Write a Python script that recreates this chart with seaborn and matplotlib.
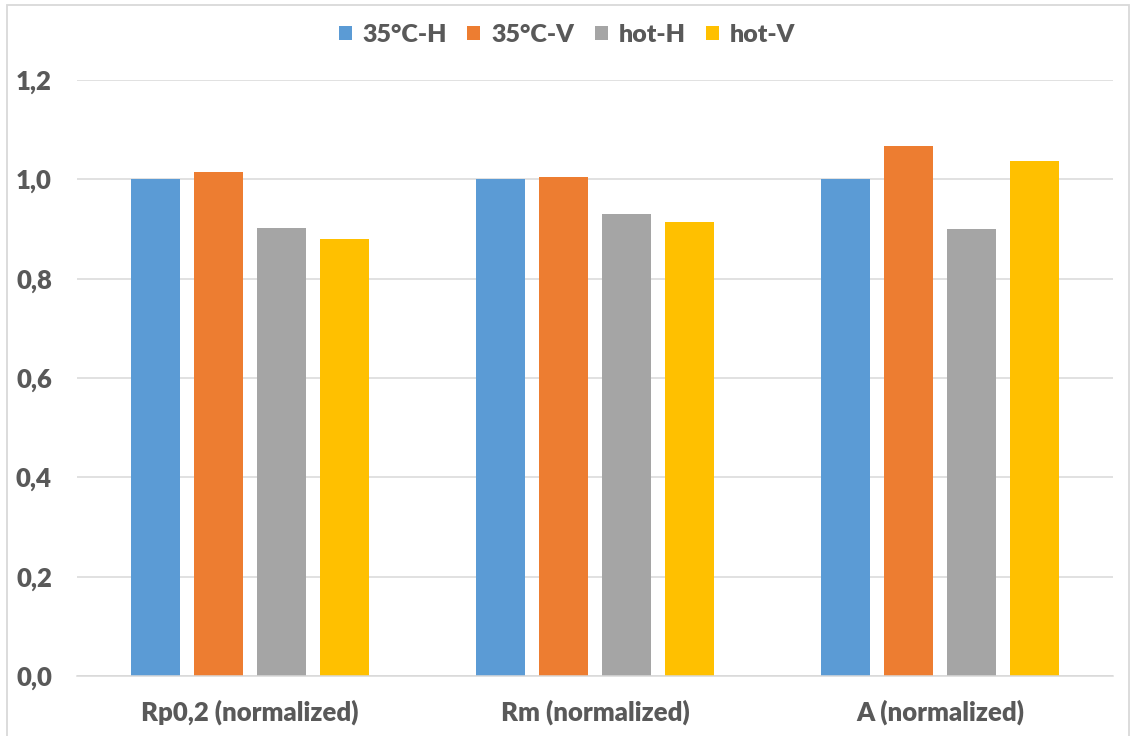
import matplotlib
matplotlib.use("Agg")
import matplotlib.pyplot as plt
from matplotlib.patches import Rectangle, Patch
import seaborn as sns
import pandas as pd

# Normalized tensile properties per test condition
categories = ["Rp0,2 (normalized)", "Rm (normalized)", "A (normalized)"]
series = ["35°C-H", "35°C-V", "hot-H", "hot-V"]
val_35_h = [1.000, 1.000, 1.000]
val_35_v = [1.014, 1.004, 1.067]
val_hot_h = [0.902, 0.931, 0.900]
val_hot_v = [0.879, 0.915, 1.036]
y_ticks = [0.0, 0.2, 0.4, 0.6, 0.8, 1.0, 1.2]
y_tick_labels = ["0,0", "0,2", "0,4", "0,6", "0,8", "1,0", "1,2"]

colors = ["#5B9BD5", "#ED7D31", "#A5A5A5", "#FFC000"]
text_color = "#595959"
grid_color = "#D9D9D9"

rows = []
for name, vals in zip(series, [val_35_h, val_35_v, val_hot_h, val_hot_v]):
    for cat, v in zip(categories, vals):
        rows.append({"category": cat, "series": name, "value": v})
df = pd.DataFrame(rows)

sns.set_theme(style="white")
plt.rcParams["font.family"] = ["Lato", "DejaVu Sans"]
FS = 18.5
WEIGHT = "heavy"

W, H = 1134, 736
fig = plt.figure(figsize=(W / 100, H / 100), dpi=100)
ax = fig.add_axes([77 / W, 1 - 676 / H, (1113 - 77) / W, (676 - 80) / H])

sns.barplot(data=df, x="category", y="value", hue="series", order=categories,
            hue_order=series, palette=colors, width=0.7304, gap=0.222,
            saturation=1, linewidth=0, ax=ax, legend=False)

ax.set_xlim(-0.5, 2.5)
ax.set_ylim(0, 1.2)
ax.set_yticks(y_ticks)
ax.set_yticklabels(y_tick_labels)
ax.set_xlabel("")
ax.set_ylabel("")
ax.yaxis.grid(True, color=grid_color, linewidth=1.1)
ax.set_axisbelow(True)
for side in ["left", "right", "top"]:
    ax.spines[side].set_visible(False)
ax.spines["bottom"].set_color(grid_color)
ax.spines["bottom"].set_linewidth(1.1)
ax.tick_params(axis="both", length=0, colors=text_color, labelsize=FS)
ax.tick_params(axis="y", pad=18)
ax.tick_params(axis="x", pad=17)
for lbl in ax.get_xticklabels() + ax.get_yticklabels():
    lbl.set_fontweight(WEIGHT)
    lbl.set_color(text_color)

handles = [Patch(facecolor=c, edgecolor="none") for c in colors]
fig.legend(handles, series, loc="center", bbox_to_anchor=(0.5, 1 - 35 / H),
           ncol=4, frameon=False, handlelength=0.52, handleheight=0.52,
           handletextpad=0.45, columnspacing=0.8,
           prop={"weight": WEIGHT, "size": 18}, labelcolor=text_color)

# Chart area border
fig.patches.append(Rectangle((6.5 / W, -0.05), (1129 - 6.5) / W, 1.05 - 5 / H,
                             transform=fig.transFigure, fill=False,
                             edgecolor="#D9D9D9", linewidth=1.3))

fig.savefig("out.png", dpi=100, facecolor="white")
